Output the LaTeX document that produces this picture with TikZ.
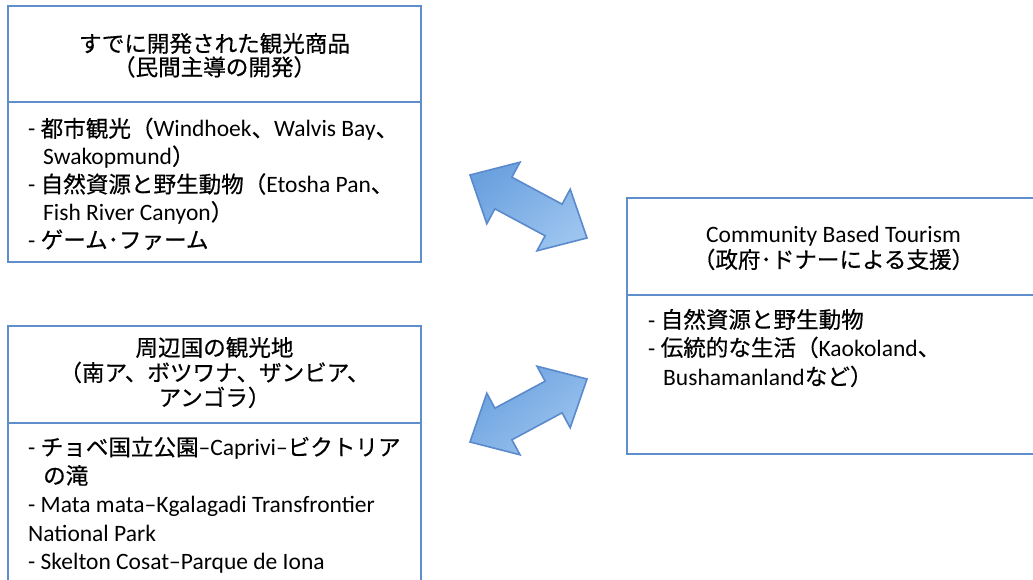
\documentclass[tikz,border=0pt]{standalone}
\usepackage{fontspec}
\setmainfont{Carlito}
\newfontfamily\jpfont[Scale=0.96,FakeBold=0.5]{Noto Sans CJK JP}
\newcommand\J[1]{{\jpfont #1}}
\definecolor{boxblue}{HTML}{5F8ECC}
\definecolor{arrowline}{HTML}{5A8ACB}
\definecolor{arrowdark}{HTML}{6BA1DF}
\definecolor{arrowlight}{HTML}{9CC4EF}
\begin{document}
\begin{tikzpicture}[x=1pt,y=-1pt,
  panel/.style={draw=boxblue, line width=2.2pt, inner sep=0pt, minimum width=413pt},
  divider/.style={draw=boxblue, line width=2.2pt},
  txt/.style={anchor=base west, inner sep=0pt, font=\fontsize{23.5}{28}\selectfont},
  hd/.style={anchor=base, inner sep=0pt, font=\fontsize{23.5}{28}\selectfont},
  blockarrow/.style={draw=arrowline, line width=1.6pt, line join=miter,
    top color=arrowdark, bottom color=arrowlight, shading angle=40}
]
\useasboundingbox (0,0) rectangle (1033,580);
\clip (0,0) rectangle (1033,580);

% panels
\node[panel, minimum height=256pt] (box1) at (214.5,134) {};
\node[panel, minimum height=274pt] (box2) at (214.5,463) {};
\node[panel, minimum height=256pt] (box3) at (833.5,326) {};

\coordinate (d1l) at (8,102);   \coordinate (d1r) at (421,102);
\coordinate (d2l) at (8,423);   \coordinate (d2r) at (421,423);
\coordinate (d3l) at (627,295); \coordinate (d3r) at (1040,295);
\draw[divider] (d1l) -- (d1r);
\draw[divider] (d2l) -- (d2r);
\draw[divider] (d3l) -- (d3r);

% box 1 text
\node[hd] (h1a) at (214.5,52) {\J{すでに開発された観光商品}};
\node[hd] (h1b) at (214.5,75.5) {\J{（民間主導の開発）}};
\node[txt] (t1a) at (28,137) {- \J{都市観光（}Windhoek\J{、}Walvis Bay\J{、}};
\node[txt] (t1b) at (43,164.8) {Swakopmund\J{）}};
\node[txt] (t1c) at (28,192.6) {- \J{自然資源と野生動物（}Etosha Pan\J{、}};
\node[txt] (t1d) at (43,220.4) {Fish River Canyon\J{）}};
\node[txt] (t1e) at (28,248.2) {- \J{ゲーム･ファーム}};

% box 2 text
\node[hd] (h2a) at (214.5,356) {\J{周辺国の観光地}};
\node[hd] (h2b) at (214.5,381) {\J{（南ア、ボツワナ、ザンビア、}};
\node[hd] (h2c) at (214.5,406) {\J{アンゴラ）}};
\node[txt] (t2a) at (28,455.5) {- \J{チョベ国立公園}–Caprivi–\J{ビクトリア}};
\node[txt] (t2b) at (43,484) {\J{の滝}};
\node[txt] (t2c) at (28,512) {- Mata mata–Kgalagadi Transfrontier};
\node[txt] (t2d) at (28,541) {National Park};
\node[txt] (t2e) at (28,569) {- Skelton Cosat–Parque de Iona};

% box 3 text
\node[hd] (h3a) at (833.5,242) {Community Based Tourism};
\node[hd] (h3b) at (833.5,268) {\J{（政府･ドナーによる支援）}};
\node[txt] (t3a) at (648,328) {- \J{自然資源と野生動物}};
\node[txt] (t3b) at (648,356) {- \J{伝統的な生活（}Kaokoland\J{、}};
\node[txt] (t3c) at (663,385) {Bushamanland\J{など）}};

% block arrows
\path[blockarrow] (470,175) -- (520,162.2) -- (511.9,177.2) -- (562.1,204.2)
  -- (570.2,189.2) -- (587,238) -- (537,250.8) -- (545.1,235.8)
  -- (494.9,208.8) -- (486.8,223.8) -- cycle;
\path[blockarrow] (470,442) -- (520,454.8) -- (511.9,439.8) -- (562.1,412.8)
  -- (570.2,427.8) -- (587,379) -- (537,366.2) -- (545.1,381.2)
  -- (494.9,408.2) -- (486.8,393.2) -- cycle;
\end{tikzpicture}
\end{document}
